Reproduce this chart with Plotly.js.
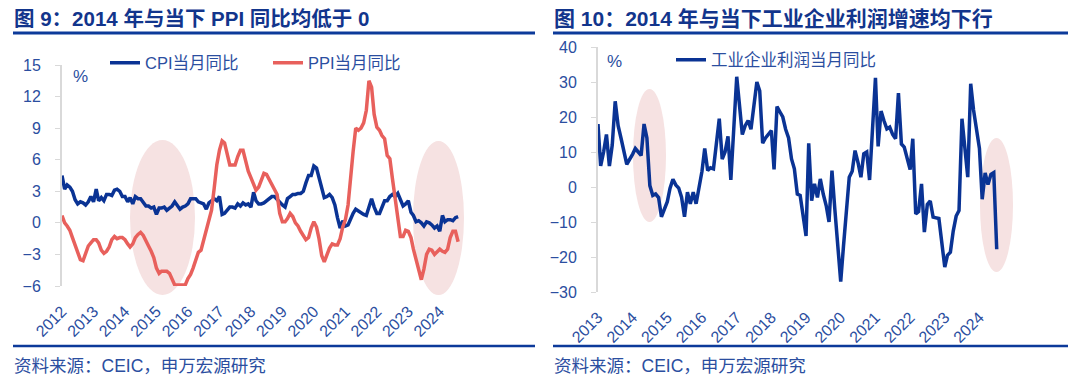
<!DOCTYPE html>
<html>
<head>
<meta charset="utf-8">
<script src="https://cdn.plot.ly/plotly-3.0.1.min.js"></script>
<style>
html,body{margin:0;padding:0;background:#fff;}
#chart{width:1080px;height:391px;}
</style>
</head>
<body>
<div id="chart"></div>
<script>
// ---------------- DATA ----------------
const leftYears = ['2012','2013','2014','2015','2016','2017','2018','2019','2020','2021','2022','2023','2024'];
const rightYears = ['2013','2014','2015','2016','2017','2018','2019','2020','2021','2022','2023','2024'];

// CPI YoY, monthly, Jan 2012 - Aug 2024
const cpiValues = [
  4.5, 3.2, 3.6, 3.4, 3.0, 2.2, 1.8, 2.0, 1.9, 1.7, 2.0, 2.5,
  2.0, 3.2, 2.1, 2.4, 2.1, 2.7, 2.7, 2.6, 3.1, 3.2, 3.0, 2.5,
  2.5, 2.0, 2.4, 1.8, 2.5, 2.3, 2.3, 2.0, 1.6, 1.6, 1.4, 1.5,
  0.8, 1.4, 1.4, 1.5, 1.2, 1.4, 1.6, 2.0, 1.6, 1.3, 1.5, 1.6,
  1.8, 2.3, 2.3, 2.3, 2.0, 1.9, 1.8, 1.3, 1.9, 2.1, 2.3, 2.1,
  2.5, 0.8, 0.9, 1.2, 1.5, 1.5, 1.4, 1.8, 1.6, 1.9, 1.7, 1.8,
  1.5, 2.9, 2.1, 1.8, 1.8, 1.9, 2.1, 2.3, 2.5, 2.5, 2.2, 1.9,
  1.7, 1.5, 2.3, 2.5, 2.7, 2.7, 2.8, 2.8, 3.0, 3.8, 4.5, 4.5,
  5.4, 5.2, 4.3, 3.3, 2.4, 2.5, 2.7, 2.4, 1.7, 0.5, -0.5, 0.2,
  -0.3, -0.2, 0.4, 0.9, 1.3, 1.1, 1.0, 0.8, 0.7, 1.5, 2.3, 1.5,
  0.9, 0.9, 1.5, 2.1, 2.1, 2.5, 2.7, 2.5, 2.8, 2.1, 1.6, 1.8,
  2.1, 1.0, 0.7, 0.1, 0.2, 0.0, -0.3, 0.1, 0.0, -0.2, -0.5, -0.3,
  -0.8, 0.7, 0.1, 0.3, 0.3, 0.2, 0.5, 0.6
];
// PPI YoY, monthly, Jan 2012 - Aug 2024
const ppiValues = [
  0.7, 0.0, -0.3, -0.7, -1.4, -2.1, -2.9, -3.5, -3.6, -2.8, -2.2, -1.9,
  -1.6, -1.6, -1.9, -2.6, -2.9, -2.7, -2.3, -1.6, -1.3, -1.5, -1.4, -1.4,
  -1.6, -2.0, -2.3, -2.0, -1.4, -1.1, -0.9, -1.2, -1.8, -2.2, -2.7, -3.3,
  -4.3, -4.8, -4.6, -4.6, -4.6, -4.8, -5.4, -5.9, -5.9, -5.9, -5.9, -5.9,
  -5.3, -4.9, -4.3, -3.4, -2.8, -2.6, -1.7, -0.8, 0.1, 1.2, 3.3, 5.5,
  6.9, 7.8, 7.6, 6.4, 5.5, 5.5, 5.5, 6.3, 6.9, 6.9, 5.8, 4.9,
  4.3, 3.7, 3.1, 3.4, 4.1, 4.7, 4.6, 4.1, 3.6, 3.3, 2.7, 0.9,
  0.1, 0.1, 0.4, 0.9, 0.6, 0.0, -0.3, -0.8, -1.2, -1.6, -1.4, -0.5,
  0.1, -0.4, -1.5, -3.1, -3.7, -3.0, -2.4, -2.0, -2.1, -2.1, -1.5, -0.4,
  0.3, 1.7, 4.4, 6.8, 9.0, 8.8, 9.0, 9.5, 10.7, 13.5, 12.9, 10.3,
  9.1, 8.8, 8.3, 8.0, 6.4, 6.1, 4.2, 2.3, 0.9, -1.3, -1.3, -0.7,
  -0.8, -1.4, -2.5, -3.6, -4.6, -5.4, -4.4, -3.0, -2.5, -2.6, -3.0, -2.7,
  -2.5, -2.7, -2.8, -2.5, -1.4, -0.8, -0.8, -1.8
];
// Industrial profits YoY, monthly Feb-Dec each year (Jan not published), Feb 2013 - Aug 2024
const profitValues = [
  18, 6, 10, 15, 6, 12, 24.5, 17.5, 14, 9.5, 6.5,
  9.4, 11, 10, 9, 18, 14, 0.4, -2.4, -2, -3, -8.5,
  -4.2, -0.4, 2.2, 0.6, -0.3, -2.9, -8.5, -1.5, -4.8, -1.5, -4.8,
  4.5, 11, 4.7, 5.5, 5.2, 11.5, 19.5, 8, 10, 14.5, 2,
  31.5, 23.8, 15, 17.5, 19, 16.5, 24, 30, 27.5, 12.5, 14,
  16.1, 5, 23, 21.5, 20, 16.5, 14, 8, 5.2, -2, -2.4,
  -14, 12.5, -3.9, 0.9, -3, 2.3, -2, -5.3, -10, 4.7, -6.3,
  -27, -17, -6, 2.8, 4.5, 10.4, 7, 2.8, 9.5, 10, 2,
  31.2, 11.6, 21.7, 19, 16.6, 17.1, 15, 13.8, 26.8, 12.3, 11.4,
  5, 13.8, -7.7, -7, 0.9, -12.9, -5, -4, -8.6, -8.8, -9,
  -22.9, -19.5, -18.6, -12.6, -8.3, -6.7, 19.5, 11.9, 2.8, 29.5, 22,
  11, -3.5, 4, 0.7, 3.6, 4.1, -17.8
];

// ---------------- BUILD X DATES ----------------
function pad(n){return (n<10?'0':'')+n;}
const leftDates = [];
for (let i=0;i<cpiValues.length;i++){
  const y = 2012 + Math.floor(i/12), m = (i%12)+1;
  leftDates.push(y+'-'+pad(m)+'-01');
}
const rightDates = [];
{
  let y = 2013, m = 2;
  for (let i=0;i<profitValues.length;i++){
    rightDates.push(y+'-'+pad(m)+'-01');
    m++; if (m>12){ y++; m=2; }
  }
}
const leftTickVals = leftYears.map(y => y+'-01-01');
const rightTickVals = rightYears.map(y => y+'-02-01');

// ---------------- STYLE ----------------
const W = 1080, H = 391;
const px = x => x / W, py = y => 1 - y / H;
const NAVY = '#0a3394', RED = '#e8605c', TXT = '#2b4ea0', TITLE = '#12358c', GREY = '#d9d9d9', PINK = '#f6e2e2';
const FONT = 'Liberation Sans, Arial, Noto Sans CJK SC, sans-serif';

const LX = [px(62), px(462)], LY = [py(286), py(65)];
const RX = [px(598), px(999)], RY = [py(292), py(47)];
const LR = [-6, 15], RR = [-30, 40];
const zeroPos = (dom, r) => dom[0] + (0 - r[0]) / (r[1] - r[0]) * (dom[1] - dom[0]);
const LXR = ['2012-01-01', '2024-09-15'], RXR = ['2013-02-01', '2024-08-25'];

const traces = [
  {x: leftDates, y: cpiValues, name: 'CPI当月同比', type: 'scatter', mode: 'lines',
   line: {color: NAVY, width: 3.5}, xaxis: 'x', yaxis: 'y', legend: 'legend'},
  {x: leftDates, y: ppiValues, name: 'PPI当月同比', type: 'scatter', mode: 'lines',
   line: {color: RED, width: 3.5}, xaxis: 'x', yaxis: 'y', legend: 'legend'},
  {x: rightDates, y: profitValues, name: '工业企业利润当月同比', type: 'scatter', mode: 'lines',
   line: {color: NAVY, width: 3.5}, xaxis: 'x2', yaxis: 'y2', legend: 'legend2'}
];

const tickFont = {family: FONT, size: 16, color: TXT};
function labelAxis(dom, anchor, range, vals, text){
  return {domain: dom, anchor: anchor, type: 'date', range: range, tickmode: 'array', tickvals: vals, ticktext: text,
    tickangle: -45, showline: false, ticks: '', showgrid: false, zeroline: false, tickfont: tickFont,
    ticklabelstandoff: 12, fixedrange: true};
}
function zeroAxis(over, pos, range, vals, t0){
  return {overlaying: over, anchor: 'free', position: pos, type: 'date', range: range, tickmode: 'array', tickvals: vals,
    showticklabels: false, showline: true, linecolor: GREY, linewidth: 2, ticks: 'inside', ticklen: 5, tickcolor: GREY, tickwidth: 1,
    showgrid: false, zeroline: false, fixedrange: true,
    minor: {tickmode: 'linear', tick0: t0, dtick: 'M1', ticks: 'outside', ticklen: 3, tickcolor: GREY, tickwidth: 1, showgrid: false}};
}
function valueAxis(dom, anchor, range, dtick){
  return {domain: dom, anchor: anchor, range: range, tickmode: 'linear', tick0: range[0], dtick: dtick,
    showline: true, linecolor: GREY, linewidth: 2, ticks: 'outside', ticklen: 5, tickcolor: GREY, tickwidth: 1,
    showgrid: false, zeroline: false, tickfont: tickFont, ticklabelstandoff: 11, fixedrange: true};
}

const ellipse = (x0, x1, y0, y1) => ({type: 'circle', xref: 'paper', yref: 'paper', x0: px(x0), x1: px(x1), y0: py(y1), y1: py(y0),
  fillcolor: PINK, line: {width: 0}, layer: 'below'});
const hline = (x0, x1, y, w) => ({type: 'line', xref: 'paper', yref: 'paper', x0: px(x0), x1: px(x1), y0: py(y), y1: py(y),
  line: {color: '#0c3a9a', width: w}});

const layout = {
  width: W, height: H, margin: {l: 0, r: 0, t: 0, b: 0}, paper_bgcolor: '#fff', plot_bgcolor: 'rgba(0,0,0,0)',
  font: {family: FONT, color: TXT},
  showlegend: true,
  xaxis: labelAxis(LX, 'y', LXR, leftTickVals, leftYears),
  yaxis: valueAxis(LY, 'x', LR, 3),
  xaxis2: labelAxis(RX, 'y2', RXR, rightTickVals, rightYears),
  yaxis2: valueAxis(RY, 'x2', RR, 10),
  xaxis3: zeroAxis('x', zeroPos(LY, LR), LXR, leftTickVals, '2012-01-01'),
  xaxis4: zeroAxis('x2', zeroPos(RY, RR), RXR, rightTickVals, '2013-02-01'),
  legend: {orientation: 'h', x: px(105), y: py(63), xanchor: 'left', yanchor: 'middle', bgcolor: 'rgba(0,0,0,0)',
    font: {family: FONT, size: 16.5, color: TXT}, entrywidth: 118, entrywidthmode: 'pixels', itemclick: false, itemdoubleclick: false},
  legend2: {orientation: 'h', x: px(671), y: py(60), xanchor: 'left', yanchor: 'middle', bgcolor: 'rgba(0,0,0,0)',
    font: {family: FONT, size: 16.5, color: TXT}, itemclick: false, itemdoubleclick: false},
  shapes: [
    ellipse(130, 195, 140, 295),
    ellipse(413, 464, 141, 295),
    ellipse(633, 666, 89, 222),
    ellipse(980, 1013, 138, 272),
    hline(13, 535, 33, 3),
    hline(553, 1068, 33, 3),
    hline(13, 535, 346, 2.5),
    hline(553, 1068, 346, 2.5)
  ],
  annotations: [
    {text: '<b>图 9：2014 年与当下 PPI 同比均低于 0</b>', xref: 'paper', yref: 'paper', x: px(12), y: py(19), xanchor: 'left', yanchor: 'middle',
      showarrow: false, font: {family: FONT, size: 20.5, color: TITLE}},
    {text: '<b>图 10：2014 年与当下工业企业利润增速均下行</b>', xref: 'paper', yref: 'paper', x: px(552), y: py(19), xanchor: 'left', yanchor: 'middle',
      showarrow: false, font: {family: FONT, size: 21, color: TITLE}},
    {text: '资料来源：CEIC，申万宏源研究', xref: 'paper', yref: 'paper', x: px(12), y: py(366), xanchor: 'left', yanchor: 'middle',
      showarrow: false, font: {family: FONT, size: 17.5, color: TXT}},
    {text: '资料来源：CEIC，申万宏源研究', xref: 'paper', yref: 'paper', x: px(552), y: py(366), xanchor: 'left', yanchor: 'middle',
      showarrow: false, font: {family: FONT, size: 17.5, color: TXT}},
    {text: '%', xref: 'paper', yref: 'paper', x: px(80), y: py(77), xanchor: 'center', yanchor: 'middle',
      showarrow: false, font: {family: FONT, size: 17, color: TXT}},
    {text: '%', xref: 'paper', yref: 'paper', x: px(614), y: py(61), xanchor: 'center', yanchor: 'middle',
      showarrow: false, font: {family: FONT, size: 17, color: TXT}}
  ]
};

Plotly.newPlot('chart', traces, layout, {displayModeBar: false, staticPlot: true});
</script>
</body>
</html>
